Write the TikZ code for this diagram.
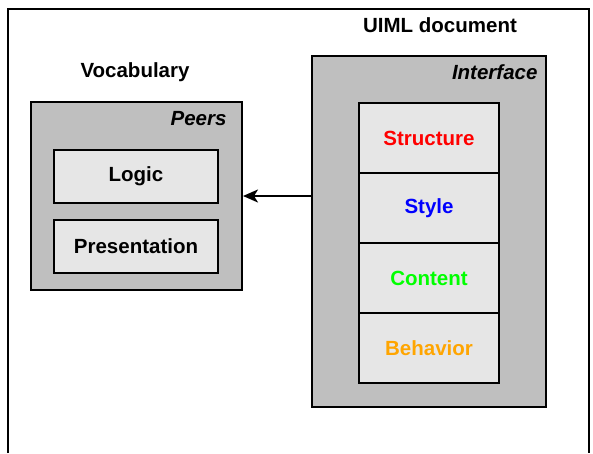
\documentclass[tikz,border=0pt]{standalone}
\usepackage{fontspec}
\setmainfont{Liberation Sans}
\usepackage{xcolor}
\usetikzlibrary{arrows.meta}
\definecolor{outergray}{HTML}{BFBFBF}
\definecolor{innergray}{HTML}{E6E6E6}
\definecolor{behaviororange}{HTML}{FFA500}
\tikzset{
  outerbox/.style={draw, line width=2pt, fill=outergray, inner sep=0pt},
  innerbox/.style={draw, line width=2pt, fill=innergray, inner sep=0pt,
    font=\bfseries\fontsize{20.5}{24}\selectfont},
  title/.style={font=\bfseries\fontsize{20.5}{24}\selectfont},
  corner/.style={font=\bfseries\itshape\fontsize{20.5}{24}\selectfont, anchor=east}
}

\begin{document}
\begin{tikzpicture}[x=1pt,y=-1pt]
  \useasboundingbox (0,0) rectangle (593,453);
  % frame
  \draw[line width=2pt] (8,453) -- (8,9) -- (589,9) -- (589,453);
  % vocabulary side
  \node[title] (V) at (135,72) {Vocabulary};
  \node[outerbox, minimum width=211pt, minimum height=188pt] (P) at (136.5,196) {};
  \node[corner] (PL) at (230,119) {Peers};
  \node[innerbox, minimum width=164pt, minimum height=53pt] (L) at (136,176.5) {Logic};
  \node[innerbox, minimum width=164pt, minimum height=53pt] (Pr) at (136,246.5) {Presentation};
  % uiml side
  \node[title] (U) at (440,25) {UIML document};
  \node[outerbox, minimum width=234pt, minimum height=351pt] (I) at (429,231.5) {};
  \node[corner] (IL) at (541,72) {Interface};
  \node[innerbox, minimum width=140pt, minimum height=70pt, text=red] (S) at (429,138) {Structure};
  \node[innerbox, minimum width=140pt, minimum height=70pt, text=blue] (St) at (429,208) {Style};
  \node[innerbox, minimum width=140pt, minimum height=70pt, text=green] (C) at (429,278) {Content};
  \node[innerbox, minimum width=140pt, minimum height=70pt, text=behaviororange] (B) at (429,348) {Behavior};
  % arrow
  \draw[line width=2pt, -{Stealth[length=15pt,width=13pt,inset=4pt]}] (I.west |- P.east) -- (P.east);
\end{tikzpicture}
\end{document}
